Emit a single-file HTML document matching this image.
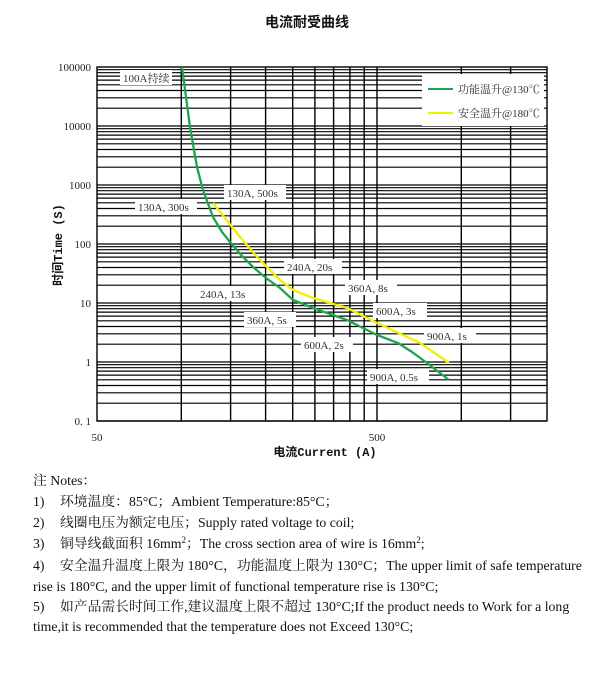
<!DOCTYPE html>
<html><head><meta charset="utf-8"><style>
body{margin:0;background:#fff;width:614px;height:674px;overflow:hidden;font-family:"Liberation Serif","Noto Serif CJK SC",serif}
.n{position:absolute;left:33px;font-size:13.8px;color:#111;white-space:nowrap;line-height:20px}
.n b{font-weight:normal;display:inline-block;width:27px}
.n sup{font-size:9px;line-height:0;vertical-align:5px}
</style></head><body>
<svg id="s" width="614" height="470" style="position:absolute;left:0;top:0" xmlns="http://www.w3.org/2000/svg"></svg>
<div class="n" style="top:471px">注 Notes：</div>
<div class="n" style="top:492px"><b>1)</b>环境温度：85°C；Ambient Temperature:85°C；</div>
<div class="n" style="top:513px"><b>2)</b>线圈电压为额定电压；Supply rated voltage to coil;</div>
<div class="n" style="top:534px"><b>3)</b>铜导线截面积 16mm<sup>2</sup>；The cross section area of wire is 16mm<sup>2</sup>;</div>
<div class="n" style="top:556px"><b>4)</b>安全温升温度上限为 180°C，功能温度上限为 130°C；The upper limit of safe temperature</div>
<div class="n" style="top:577px">rise is 180°C, and the upper limit of functional temperature rise is 130°C;</div>
<div class="n" style="top:597px"><b>5)</b>如产品需长时间工作,建议温度上限不超过 130°C;If the product needs to Work for a long</div>
<div class="n" style="top:617px">time,it is recommended that the temperature does not Exceed 130°C;</div>
<script>
var s='';var L=97,R=547,T=67,B=421;
function X(a){return L+280*Math.log10(a/50)}
function Y(t){return 362-59*Math.log10(t)}
for(var e=-1;e<5;e++)for(var k=1;k<10;k++){var y=Y(k*Math.pow(10,e));s+='<line x1="'+L+'" x2="'+R+'" y1="'+y.toFixed(1)+'" y2="'+y.toFixed(1)+'" stroke="#000" stroke-width="1.2"/>';}
[100,150,200,250,300,350,400,450,500,1000,1500].forEach(function(a){var x=X(a).toFixed(1);s+='<line x1="'+x+'" x2="'+x+'" y1="'+T+'" y2="'+B+'" stroke="#000" stroke-width="1.4"/>';});
s+='<rect x="'+L+'" y="'+T+'" width="'+(R-L)+'" height="'+(B-T)+'" fill="none" stroke="#000" stroke-width="1.4"/>';
s+='<rect x="422" y="74" width="122" height="52" fill="#fff"/>';
s+='<line x1="428" x2="453" y1="89" y2="89" stroke="#1aa64a" stroke-width="2"/><line x1="428" x2="453" y1="113" y2="113" stroke="#f0f000" stroke-width="2"/>';
s+='<text x="458" y="93" font-size="11" fill="#333">功能温升@130℃</text><text x="458" y="117" font-size="11" fill="#333">安全温升@180℃</text>';
s+='<polyline fill="none" stroke="#1aa64a" stroke-width="2.3" points="182,67 190,127 197,167 203,190 213,217 222,232 230,242 242,256 253,267 266,278 280,288 293,300 313,308 347,320 377,335 398,343 412,352 427,363 449,380"/>';
s+='<polyline fill="none" stroke="#f0f000" stroke-width="2.3" points="213,203 240,237 258,258 270,270 280,280 293,290 313,298 347,308 377,323 420,343 449,363"/>';
function lab(x,y,w,t){s+='<rect x="'+x+'" y="'+(y-8)+'" width="'+w+'" height="15" fill="#fff"/><text x="'+(x+3)+'" y="'+(y+4)+'" font-size="11" fill="#333">'+t+'</text>';}
lab(120,78,52,'100A持续');lab(224,193,62,'130A, 500s');lab(135,207,62,'130A, 300s');
lab(284,267,58,'240A, 20s');lab(197,294,58,'240A, 13s');lab(345,288,52,'360A, 8s');
lab(244,320,52,'360A, 5s');lab(373,311,54,'600A, 3s');lab(301,345,52,'600A, 2s');
lab(424,336,52,'900A, 1s');lab(367,377,62,'900A, 0.5s');
var yl=[['100000',67],['10000',126],['1000',185],['100',244],['10',303],['1',362],['0. 1',421]];
yl.forEach(function(p){s+='<text x="91" y="'+(p[1]+4)+'" font-size="11" text-anchor="end" fill="#222">'+p[0]+'</text>';});
s+='<text x="97" y="441" font-size="11" text-anchor="middle" fill="#222">50</text><text x="377" y="441" font-size="11" text-anchor="middle" fill="#222">500</text>';
s+='<text x="325" y="456" font-size="12" font-weight="bold" text-anchor="middle" fill="#111" font-family="Liberation Mono,Noto Sans CJK SC,monospace">电流Current (A)</text>';
s+='<text transform="translate(62,245) rotate(-90)" font-size="12" font-weight="bold" text-anchor="middle" fill="#111" font-family="Liberation Mono,Noto Sans CJK SC,monospace">时间Time (S)</text>';
s+='<text x="307" y="27" font-size="14" font-weight="bold" text-anchor="middle" fill="#111" font-family="Liberation Sans,Noto Sans CJK SC,sans-serif">电流耐受曲线</text>';
document.getElementById('s').innerHTML=s;
</script>
</body></html>
